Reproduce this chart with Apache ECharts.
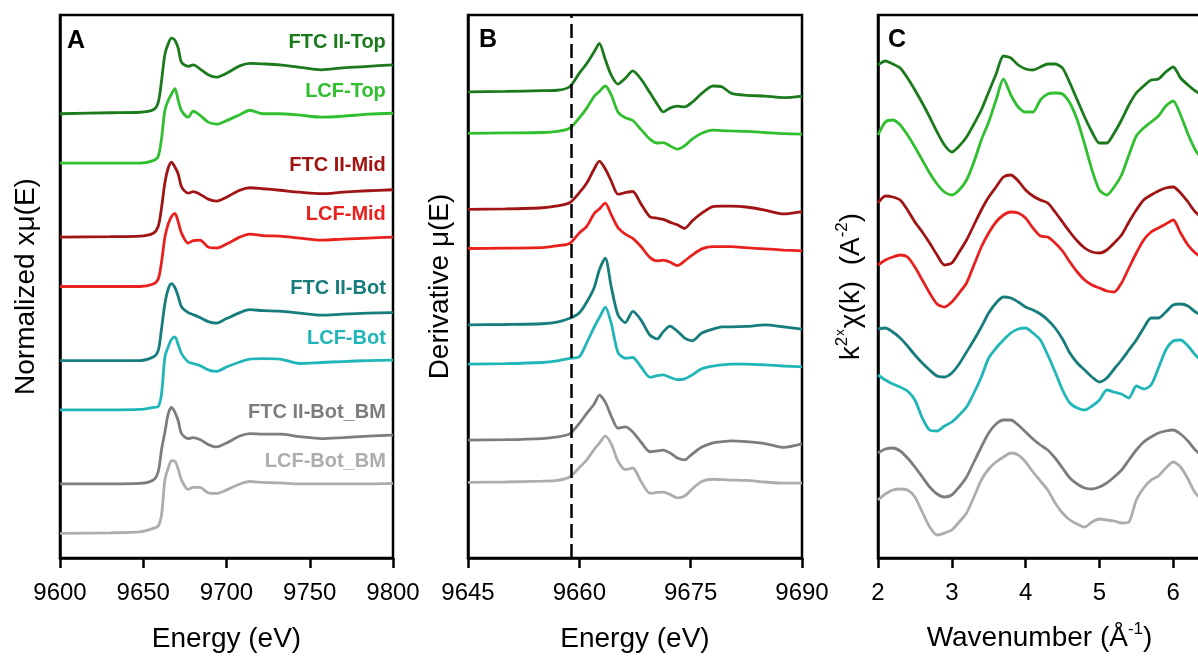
<!DOCTYPE html>
<html>
<head>
<meta charset="utf-8">
<script src="https://cdn.jsdelivr.net/npm/echarts@6/dist/echarts.min.js"></script>
<style>
  html, body { margin: 0; padding: 0; background: #fff; }
  #chart { width: 1198px; height: 656px; }
</style>
</head>
<body>
<div id="chart"></div>
<script>
// ---- sample names and colours ----
const sampleNames = ['FTC II-Top', 'LCF-Top', 'FTC II-Mid', 'LCF-Mid',
                     'FTC II-Bot', 'LCF-Bot', 'FTC II-Bot_BM', 'LCF-Bot_BM'];
const sampleColors = ['#1b7a1b', '#2fbf2f', '#a01414', '#e8201e',
                      '#177c7c', '#20b6b8', '#7d7d7d', '#adadad'];

// ---- panel A: normalized XANES, energy (eV) ----
const energyA = [9600, 9630, 9648, 9656, 9659, 9661, 9663, 9665, 9667, 9669, 9671, 9673, 9677, 9680,
                 9684, 9689, 9694, 9700, 9708, 9714, 9722, 9732, 9744, 9757, 9770, 9785, 9800];
const ftcTopA = [0.00, 0.02, 0.03, 0.08, 0.23, 0.67, 1.20, 1.42, 1.53, 1.49, 1.33, 1.04, 0.96, 0.99, 0.91, 0.79, 0.74, 0.82, 0.97, 1.02, 1.01, 0.99, 0.94, 0.89, 0.93, 0.96, 0.99];
const lcfTopA = [0.00, 0.00, 0.00, 0.05, 0.14, 0.50, 1.07, 1.27, 1.40, 1.51, 1.27, 1.06, 0.93, 1.05, 0.97, 0.83, 0.79, 0.86, 0.98, 1.07, 1.00, 1.00, 0.97, 0.93, 0.95, 0.99, 1.01];
const ftcMidA = [0.00, 0.01, 0.02, 0.08, 0.22, 0.60, 1.10, 1.40, 1.52, 1.42, 1.28, 1.02, 0.89, 0.92, 0.87, 0.77, 0.73, 0.81, 0.95, 1.00, 0.98, 0.95, 0.91, 0.88, 0.91, 0.94, 0.96];
const lcfMidA = [0.00, 0.00, 0.00, 0.05, 0.15, 0.50, 1.00, 1.27, 1.42, 1.48, 1.31, 1.08, 0.88, 0.93, 0.94, 0.80, 0.78, 0.86, 1.00, 1.06, 1.03, 1.02, 0.98, 0.94, 0.96, 0.98, 1.00];
const ftcBotA = [0.00, 0.00, 0.00, 0.07, 0.20, 0.65, 1.15, 1.45, 1.56, 1.48, 1.30, 1.09, 0.97, 0.93, 0.87, 0.79, 0.76, 0.85, 0.97, 1.03, 1.01, 1.00, 0.96, 0.92, 0.94, 0.96, 0.97];
const lcfBotA = [0.00, 0.00, 0.01, 0.05, 0.07, 0.33, 1.07, 1.28, 1.43, 1.48, 1.32, 1.14, 0.97, 0.94, 0.90, 0.81, 0.78, 0.87, 0.97, 1.03, 1.04, 1.03, 0.94, 0.96, 0.98, 1.00, 1.01];
const ftcBmA  = [0.00, 0.00, 0.01, 0.08, 0.25, 0.70, 1.05, 1.42, 1.55, 1.45, 1.28, 1.02, 0.92, 0.94, 0.90, 0.80, 0.75, 0.83, 0.97, 1.02, 1.01, 1.01, 0.96, 0.92, 0.94, 0.97, 0.99];
const lcfBmA  = [0.00, 0.01, 0.03, 0.10, 0.15, 0.38, 1.08, 1.32, 1.47, 1.46, 1.30, 1.08, 0.89, 0.93, 0.93, 0.82, 0.81, 0.88, 1.00, 1.05, 1.03, 1.02, 1.00, 1.00, 1.00, 1.00, 1.01];
const stackOffsetA = [9, 8, 6.5, 5.5, 4, 3, 1.5, 0.5];

// ---- panel B: first derivative, energy (eV) ----
const energyB = [9645, 9650, 9655, 9657, 9658.7, 9660, 9661, 9662, 9662.7, 9663.5, 9664.3, 9665.2, 9666.2, 9667.2, 9668.3,
                 9669.5, 9670.5, 9671.3, 9672.2, 9673.2, 9674.2, 9675.2, 9676.5, 9678, 9679.2, 9680.5, 9682.5, 9685, 9687.5, 9690];
const ftcTopB = [0.02, 0.03, 0.05, 0.06, 0.15, 0.50, 0.75, 1.05, 1.27, 0.85, 0.45, 0.22, 0.37, 0.56, 0.35, 0.00, -0.30, -0.50, -0.40, -0.35, -0.37, -0.25, -0.02, 0.17, 0.15, -0.02, -0.07, -0.09, -0.13, -0.09];
const lcfTopB = [-0.05, -0.04, -0.03, 0.00, 0.08, 0.35, 0.60, 0.90, 1.03, 1.17, 0.94, 0.50, 0.35, 0.28, 0.05, -0.20, -0.30, -0.29, -0.37, -0.46, -0.37, -0.20, -0.05, 0.03, 0.02, 0.01, 0.00, -0.03, -0.06, -0.07];
const ftcMidB = [-0.01, 0.00, 0.03, 0.08, 0.16, 0.42, 0.67, 1.03, 1.23, 1.03, 0.72, 0.38, 0.42, 0.45, 0.13, -0.20, -0.24, -0.27, -0.34, -0.41, -0.50, -0.31, -0.11, 0.06, 0.07, 0.07, 0.05, -0.03, -0.13, -0.07];
const lcfMidB = [-0.02, -0.01, 0.00, 0.05, 0.11, 0.38, 0.55, 0.88, 1.00, 1.15, 0.85, 0.52, 0.35, 0.24, 0.03, -0.25, -0.34, -0.32, -0.37, -0.46, -0.34, -0.19, -0.03, 0.03, 0.03, 0.03, 0.00, -0.03, -0.06, -0.08];
const ftcBotB = [0.01, 0.02, 0.04, 0.08, 0.18, 0.32, 0.60, 0.97, 1.43, 1.73, 0.99, 0.27, 0.07, 0.36, 0.14, -0.25, -0.35, -0.17, -0.02, -0.15, -0.33, -0.40, -0.20, -0.10, -0.04, -0.04, -0.03, 0.01, -0.04, -0.10];
const lcfBotB = [0.00, 0.01, 0.04, 0.08, 0.15, 0.19, 0.55, 0.95, 1.20, 1.47, 1.05, 0.30, 0.15, 0.17, -0.07, -0.34, -0.30, -0.28, -0.34, -0.40, -0.38, -0.28, -0.12, -0.05, -0.02, 0.00, 0.00, -0.02, -0.05, -0.07];
const ftcBmB  = [0.04, 0.05, 0.08, 0.12, 0.20, 0.47, 0.73, 0.97, 1.20, 1.02, 0.66, 0.35, 0.38, 0.25, -0.01, -0.26, -0.24, -0.22, -0.29, -0.42, -0.47, -0.32, -0.14, -0.03, 0.00, 0.02, 0.00, -0.05, -0.15, -0.06];
const lcfBmB  = [-0.05, -0.04, -0.02, 0.00, 0.09, 0.33, 0.53, 0.80, 0.96, 1.14, 0.94, 0.50, 0.28, 0.32, -0.02, -0.33, -0.31, -0.30, -0.36, -0.45, -0.40, -0.22, -0.03, 0.03, 0.02, 0.01, 0.00, -0.04, -0.07, -0.07];
const stackOffsetB = [12, 11, 9, 8, 6, 5, 3, 2];
const edgeEnergy = 9658.9;

// ---- panel C: k2-weighted EXAFS, wavenumber (1/Å) ----
const waveK = [2.0, 2.1, 2.2, 2.3, 2.4, 2.5, 2.6, 2.7, 2.8, 2.9, 3.0, 3.1, 3.2, 3.3, 3.4, 3.5, 3.6, 3.7, 3.8, 3.9,
               4.0, 4.1, 4.2, 4.3, 4.4, 4.5, 4.6, 4.7, 4.8, 4.9, 5.0, 5.1, 5.2, 5.3, 5.4, 5.5, 5.6, 5.7, 5.8, 5.9,
               6.0, 6.1, 6.2, 6.3, 6.4];
const ftcTopC = [4.3, 4.7, 4.4, 4.0, 3.0, 1.8, 0.5, -0.9, -2.4, -3.7, -4.4, -3.8, -2.9, -1.6, -0.2, 1.6, 3.4, 5.2, 5.0, 4.3, 3.9, 3.8, 4.1, 4.4, 4.4, 4.0, 2.5, 0.8, -0.9, -2.4, -3.5, -3.5, -2.5, -1.2, 0.3, 1.5, 2.2, 2.8, 2.9, 3.6, 4.1, 3.0, 2.3, 1.7, 1.3];
const lcfTopC = [0.3, 1.6, 1.8, 1.3, 0.3, -0.9, -2.2, -3.5, -4.6, -5.4, -5.7, -5.2, -4.2, -2.4, -0.2, 1.6, 3.8, 5.9, 4.3, 3.1, 2.6, 2.6, 3.8, 4.4, 4.5, 4.4, 3.5, 1.8, -0.6, -3.2, -5.2, -5.7, -4.9, -3.7, -1.7, 0.2, 1.0, 1.6, 2.2, 3.2, 3.7, 2.3, 0.4, -1.2, -2.2];
const ftcMidC = [1.5, 2.2, 2.1, 1.8, 0.8, -0.4, -1.4, -2.5, -3.7, -4.7, -4.5, -3.4, -2.2, -0.7, 0.8, 2.1, 3.1, 4.1, 4.3, 3.7, 2.8, 2.2, 1.8, 1.5, 0.6, -0.4, -1.4, -2.3, -3.0, -3.4, -3.5, -3.2, -2.5, -1.7, -0.4, 0.8, 1.8, 2.3, 2.7, 3.0, 3.1, 2.5, 1.6, 0.6, 0.0];
const lcfMidC = [-0.7, -0.2, 0.1, 0.3, 0.1, -0.9, -2.2, -3.5, -4.6, -4.9, -4.4, -3.5, -2.5, -0.7, 1.1, 2.5, 3.6, 4.3, 4.6, 4.5, 4.0, 3.0, 2.2, 2.1, 1.5, 0.7, -0.4, -1.4, -2.2, -2.7, -3.0, -3.3, -3.4, -2.5, -1.0, 0.5, 1.8, 2.6, 3.0, 3.4, 3.8, 2.5, 1.3, 0.5, 0.0];
const ftcBotC = [0.9, 1.0, 0.6, 0.0, -0.8, -1.7, -2.5, -3.2, -3.8, -3.9, -3.5, -2.6, -1.4, -0.2, 1.1, 2.5, 3.5, 4.1, 4.0, 3.6, 3.1, 2.8, 2.4, 1.8, 1.0, -0.1, -1.5, -2.5, -3.2, -3.9, -4.4, -4.0, -3.1, -2.2, -1.2, -0.2, 1.0, 2.0, 2.0, 2.6, 3.3, 3.4, 3.2, 2.6, 2.2];
const lcfBotC = [0.3, -0.2, -0.6, -0.9, -1.3, -2.2, -4.0, -5.2, -5.3, -4.8, -4.4, -3.7, -2.9, -1.5, 0.1, 2.0, 3.0, 3.8, 4.5, 4.9, 5.0, 4.5, 3.8, 2.3, 0.6, -1.2, -2.5, -3.0, -3.2, -2.8, -2.2, -1.2, -1.4, -1.6, -2.0, -0.8, -1.1, -0.7, 1.0, 2.8, 3.7, 3.8, 3.2, 2.3, 1.6];
const ftcBmC  = [0.5, 0.9, 1.0, 0.7, 0.0, -0.9, -1.9, -2.9, -3.6, -3.9, -3.7, -2.9, -1.9, -0.4, 1.1, 2.5, 3.4, 3.8, 3.8, 3.3, 2.6, 1.9, 1.3, 0.8, 0.0, -1.0, -2.0, -2.6, -3.0, -3.1, -2.9, -2.5, -1.9, -1.2, -0.2, 0.8, 1.6, 2.1, 2.5, 2.7, 2.8, 2.4, 1.7, 0.8, 0.2];
const lcfBmC  = [-0.2, 0.4, 0.8, 0.9, 0.8, 0.1, -1.4, -2.9, -3.7, -3.5, -3.2, -2.4, -1.5, 0.1, 1.8, 2.9, 3.6, 4.1, 4.5, 4.3, 3.6, 2.6, 1.7, 0.8, -0.5, -1.5, -2.2, -2.6, -2.9, -2.4, -2.1, -2.2, -2.3, -2.5, -2.4, -0.2, 1.0, 1.8, 2.2, 3.0, 3.6, 3.1, 1.9, 0.5, -0.2];
const stackOffsetC = [45, 42, 34, 30, 22, 18, 10, 6];

// ---- tick settings ----
const ticksA = { min: 9600, max: 9800, interval: 50 };
const ticksB = { min: 9645, max: 9690, interval: 15 };
const ticksC = { min: 2, max: 7, interval: 1 };

const curvesA = [ftcTopA, lcfTopA, ftcMidA, lcfMidA, ftcBotA, lcfBotA, ftcBmA, lcfBmA];
const curvesB = [ftcTopB, lcfTopB, ftcMidB, lcfMidB, ftcBotB, lcfBotB, ftcBmB, lcfBmB];
const curvesC = [ftcTopC, lcfTopC, ftcMidC, lcfMidC, ftcBotC, lcfBotC, ftcBmC, lcfBmC];

const FONT = '"Liberation Sans", Arial, Helvetica, sans-serif';
const INK = '#000';

function stacked(xs, ys, off) {
  return xs.map((x, i) => [x, +(ys[i] + off).toFixed(3)]);
}

function lineSeries(name, idx, data, color, smooth) {
  return {
    type: 'line', name: name, xAxisIndex: idx, yAxisIndex: idx,
    data: data, symbol: 'none', showSymbol: false, smooth: smooth,
    lineStyle: { color: color, width: 2.8 }, itemStyle: { color: color },
    silent: true, animation: false, z: 3
  };
}

const series = [];
sampleNames.forEach((name, i) => {
  const s = lineSeries(name, 0, stacked(energyA, curvesA[i], stackOffsetA[i]), sampleColors[i], 0.3);
  // sample name written above the right end of each spectrum
  s.markPoint = {
    symbol: 'circle', symbolSize: 1, animation: false, silent: true,
    itemStyle: { color: 'rgba(0,0,0,0)' },
    label: {
      show: true, position: 'left', distance: 0, formatter: name,
      color: sampleColors[i], fontSize: 20, fontWeight: 'bold', fontFamily: FONT
    },
    data: [{ coord: [9796, stackOffsetA[i] + 1.45] }]
  };
  series.push(s);
});
sampleNames.forEach((name, i) => {
  const s = lineSeries(name, 1, stacked(energyB, curvesB[i], stackOffsetB[i]), sampleColors[i], 0.25);
  if (i === 0) {
    s.markLine = {
      symbol: ['none', 'none'], silent: true, animation: false,
      label: { show: false },
      lineStyle: { color: INK, type: [14, 6], width: 2.5 },
      data: [{ xAxis: edgeEnergy }]
    };
  }
  series.push(s);
});
sampleNames.forEach((name, i) => {
  series.push(lineSeries(name, 2, stacked(waveK, curvesC[i], stackOffsetC[i]), sampleColors[i], 0.25));
});

function xAxisOf(idx, ticks, name, nameGap, extra) {
  return Object.assign({
    type: 'value', gridIndex: idx,
    min: ticks.min, max: ticks.max, interval: ticks.interval,
    axisLine: { show: true, onZero: false, lineStyle: { color: INK, width: 2.5 } },
    axisTick: { show: true, inside: false, length: 10, lineStyle: { color: INK, width: 2.5 } },
    axisLabel: { color: INK, fontSize: 24, margin: 23, fontFamily: FONT, formatter: v => String(v) },
    splitLine: { show: false },
    name: name, nameLocation: 'middle', nameGap: nameGap, nameMoveOverlap: false,
    nameTextStyle: { color: INK, fontSize: 28, fontFamily: FONT }
  }, extra || {});
}

function yAxisOf(idx, max, name, nameGap, extra) {
  return Object.assign({
    type: 'value', gridIndex: idx, min: 0, max: max,
    axisLine: { show: true, lineStyle: { color: INK, width: 2.5 } },
    axisTick: { show: false }, axisLabel: { show: false }, splitLine: { show: false },
    name: name, nameLocation: 'middle', nameGap: nameGap, nameMoveOverlap: false,
    nameTextStyle: { color: INK, fontSize: 28, fontFamily: FONT }
  }, extra || {});
}

const gridBase = { top: 15, height: 543, show: true, borderColor: INK, borderWidth: 2.5,
                   backgroundColor: 'transparent', containLabel: false, outerBoundsMode: 'none' };

const supStyles = {
  a: { fontSize: 28, fontFamily: FONT, color: INK, lineHeight: 34 },
  s: { fontSize: 17, fontFamily: FONT, color: INK, verticalAlign: 'top', lineHeight: 34, padding: [0, 0, 12, 0] },
  m: { fontSize: 13, fontFamily: FONT, color: INK, verticalAlign: 'top', lineHeight: 34, padding: [0, 1, 8, 1] }
};

const option = {
  backgroundColor: '#fff',
  animation: false,
  grid: [
    Object.assign({ left: 60, width: 333 }, gridBase),
    Object.assign({ left: 468, width: 334 }, gridBase),
    Object.assign({ left: 878, width: 369 }, gridBase)
  ],
  xAxis: [
    xAxisOf(0, ticksA, 'Energy (eV)', 67),
    xAxisOf(1, ticksB, 'Energy (eV)', 67),
    xAxisOf(2, ticksC, '{a|Wavenumber (Å}{s|-1}{a|)}', 63, {
      nameTextStyle: { color: INK, fontSize: 28, fontFamily: FONT, padding: [0, 46, 0, 0], rich: supStyles }
    })
  ],
  yAxis: [
    yAxisOf(0, 11, 'Normalized xμ(E)', 20),
    yAxisOf(1, 14, 'Derivative μ(E)', 14),
    yAxisOf(2, 54.3, '{a|k}{s|2}{m|x}{a|χ(k)  (A}{s|-2}{a|)}', 10, {
      nameTextStyle: { color: INK, fontSize: 28, fontFamily: FONT, rich: supStyles }
    })
  ],
  graphic: [
    { type: 'text', left: 67, top: 29, silent: true,
      style: { text: 'A', fontSize: 25, fontWeight: 'bold', fontFamily: FONT, fill: INK } },
    { type: 'text', left: 479, top: 28, silent: true,
      style: { text: 'B', fontSize: 25, fontWeight: 'bold', fontFamily: FONT, fill: INK } },
    { type: 'text', left: 888, top: 28, silent: true,
      style: { text: 'C', fontSize: 25, fontWeight: 'bold', fontFamily: FONT, fill: INK } }
  ],
  series: series
};

const chart = echarts.init(document.getElementById('chart'), null, { renderer: 'canvas' });
chart.setOption(option);
</script>
</body>
</html>
